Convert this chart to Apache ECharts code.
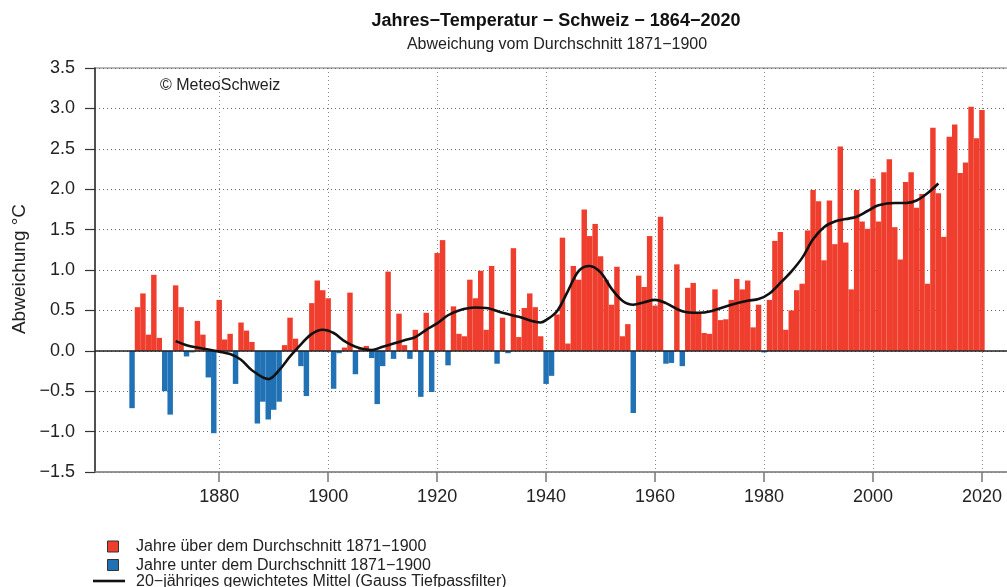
<!DOCTYPE html>
<html>
<head>
<meta charset="utf-8">
<script src="https://cdn.jsdelivr.net/npm/echarts@6/dist/echarts.min.js"></script>
<style>
  html, body { margin: 0; padding: 0; background: #ffffff; }
  #chart { width: 1007px; height: 587px; }
</style>
</head>
<body>
<div id="chart"></div>
<script>
// Annual temperature anomaly, Switzerland, relative to the 1871–1900 mean (°C)
const firstYear = 1864;
const anomalies = [
  -0.71, 0.54, 0.71, 0.20, 0.94, 0.16, -0.50, -0.79, 0.81, 0.54,   // 1864–1873
  -0.07, -0.02, 0.37, 0.20, -0.33, -1.02, 0.63, 0.14, 0.21, -0.41, // 1874–1883
  0.35, 0.25, 0.11, -0.90, -0.63, -0.85, -0.73, -0.63, 0.07, 0.41, // 1884–1893
  0.15, -0.19, -0.56, 0.59, 0.87, 0.75, 0.65, -0.47, -0.03, 0.04,  // 1894–1903
  0.72, -0.29, 0.02, 0.06, -0.09, -0.66, -0.19, 0.98, -0.10, 0.46, // 1904–1913
  0.07, -0.10, 0.26, -0.57, 0.47, -0.51, 1.21, 1.37, -0.18, 0.55,  // 1914–1923
  0.21, 0.18, 0.88, 0.65, 0.99, 0.26, 1.05, -0.16, 0.41, -0.03,    // 1924–1933
  1.27, 0.17, 0.53, 0.71, 0.54, 0.18, -0.41, -0.31, 0.45, 1.40,    // 1934–1943
  0.09, 1.05, 0.88, 1.75, 1.42, 1.57, 1.17, 0.88, 0.57, 1.04,      // 1944–1953
  0.18, 0.33, -0.77, 0.93, 0.79, 1.42, 0.56, 1.66, -0.16, -0.15,   // 1954–1963
  1.07, -0.19, 0.78, 0.84, 0.47, 0.22, 0.21, 0.76, 0.38, 0.39,     // 1964–1973
  0.63, 0.89, 0.76, 0.87, 0.29, 0.57, -0.02, 0.63, 1.36, 1.47,     // 1974–1983
  0.26, 0.50, 0.75, 0.83, 1.49, 1.99, 1.85, 1.12, 1.86, 1.32,      // 1984–1993
  2.53, 1.34, 0.76, 1.99, 1.60, 1.51, 2.13, 1.60, 2.21, 2.37,      // 1994–2003
  1.53, 1.13, 2.09, 2.21, 1.77, 1.94, 0.83, 2.76, 1.95, 1.41,      // 2004–2013
  2.65, 2.80, 2.20, 2.33, 3.02, 2.63, 2.98                         // 2014–2020
];
const years = anomalies.map((_, i) => firstYear + i);

// 20-year weighted mean (Gaussian low-pass filter)
const filterYears  = [1872, 1874, 1876, 1880, 1882, 1884, 1886, 1889, 1891, 1893,
                      1895, 1897, 1899, 1901, 1903, 1905, 1908, 1910, 1912, 1914,
                      1916, 1918, 1920, 1922, 1924, 1927, 1929, 1932, 1935, 1939,
                      1940, 1942, 1944, 1946, 1948, 1950, 1952, 1954, 1956, 1958,
                      1960, 1962, 1965, 1968, 1970, 1974, 1977, 1979, 1981, 1983,
                      1985, 1987, 1989, 1991, 1993, 1995, 1997, 1999, 2001, 2004,
                      2006, 2008, 2010, 2012];
const filterValues = [0.12, 0.07, 0.04, -0.01, -0.04, -0.11, -0.24, -0.35, -0.24, -0.07,
                      0.08, 0.21, 0.26, 0.22, 0.12, 0.05, 0.01, 0.05, 0.09, 0.13,
                      0.17, 0.26, 0.34, 0.44, 0.50, 0.535, 0.53, 0.47, 0.42, 0.35,
                      0.38, 0.49, 0.74, 0.99, 1.05, 0.97, 0.77, 0.62, 0.57, 0.60,
                      0.63, 0.59, 0.49, 0.47, 0.485, 0.57, 0.62, 0.64, 0.71, 0.84,
                      0.98, 1.15, 1.38, 1.53, 1.60, 1.63, 1.66, 1.73, 1.80, 1.83,
                      1.83, 1.86, 1.95, 2.07];

const decadeTicks = [1880, 1900, 1920, 1940, 1960, 1980, 2000, 2020];

const RED = '#EF3E2D';
const BLUE = '#2171B5';
const FONT = '"Liberation Sans", Arial, Helvetica, sans-serif';

const aboveData = [];
const belowData = [];
years.forEach((y, i) => {
  const v = anomalies[i];
  if (v >= 0) aboveData.push([y, v]); else belowData.push([y, v]);
});
const filterData = filterYears.map((y, i) => [y, filterValues[i]]);

const legendLabels = [
  'Jahre über dem Durchschnitt 1871\u22121900',
  'Jahre unter dem Durchschnitt 1871\u22121900',
  '20\u2212jähriges gewichtetes Mittel (Gauss Tiefpassfilter)'
];

const chart = echarts.init(document.getElementById('chart'), null, { renderer: 'canvas' });

const option = {
  animation: false,
  backgroundColor: '#ffffff',
  textStyle: { fontFamily: FONT },
  grid: {
    left: 95, top: 68, width: 924, height: 404,
    containLabel: false,
    outerBoundsMode: 'none',
    show: true,
    borderColor: '#777',
    borderWidth: 1.2,
    backgroundColor: 'transparent'
  },
  xAxis: {
    type: 'value',
    min: 1857.2,
    max: 2026.8,
    axisLine: { show: true, onZero: false, lineStyle: { color: '#888', width: 1.6 } },
    axisTick: { show: true, length: 10, customValues: decadeTicks, lineStyle: { color: '#777', width: 1.5 } },
    axisLabel: {
      customValues: decadeTicks,
      margin: 16,
      fontSize: 18,
      color: '#222',
      fontFamily: FONT,
      formatter: v => String(Math.round(v))
    },
    splitLine: { show: true, lineStyle: { color: '#888', width: 1, type: [1, 3] } }
  },
  yAxis: {
    type: 'value',
    min: -1.5,
    max: 3.5,
    interval: 0.5,
    axisLine: { show: true, lineStyle: { color: '#333', width: 1.5 } },
    axisTick: { show: true, length: 10, lineStyle: { color: '#333', width: 1.2 } },
    axisLabel: {
      margin: 20,
      fontSize: 18,
      color: '#222',
      fontFamily: FONT,
      formatter: v => (v < 0 ? '\u2212' : '') + Math.abs(v).toFixed(1)
    },
    splitLine: { show: true, lineStyle: { color: '#666', width: 1, type: [1, 3] } }
  },
  series: [
    {
      name: legendLabels[0],
      type: 'bar',
      data: aboveData,
      barWidth: 5.45,
      barGap: '-100%',
      itemStyle: { color: RED },
      z: 3
    },
    {
      name: legendLabels[1],
      type: 'bar',
      data: belowData,
      barWidth: 5.45,
      barGap: '-100%',
      itemStyle: { color: BLUE },
      z: 3
    },
    {
      name: legendLabels[2],
      type: 'line',
      data: filterData,
      smooth: 0.35,
      symbol: 'none',
      lineStyle: { color: '#111', width: 2.6 },
      z: 5,
      markLine: {
        silent: true,
        symbol: ['none', 'none'],
        label: { show: false },
        lineStyle: { color: '#222', width: 1.5, type: 'solid' },
        data: [{ yAxis: 0 }],
        z: 4
      }
    }
  ],
  graphic: [
    {
      type: 'text', left: null, x: 556, y: 21,
      style: { text: 'Jahres\u2212Temperatur \u2212 Schweiz \u2212 1864\u22122020', font: 'bold 18px ' + FONT,
               fill: '#111', align: 'center', verticalAlign: 'middle' }
    },
    {
      type: 'text', x: 557, y: 45,
      style: { text: 'Abweichung vom Durchschnitt 1871\u22121900', font: '16px ' + FONT,
               fill: '#222', align: 'center', verticalAlign: 'middle' }
    },
    {
      type: 'text', x: 160, y: 86,
      style: { text: '\u00A9 MeteoSchweiz', font: '16px ' + FONT,
               fill: '#222', align: 'left', verticalAlign: 'middle' }
    },
    {
      type: 'text', x: 20, y: 269, rotation: Math.PI / 2,
      style: { text: 'Abweichung \u00B0C', font: '19px ' + FONT,
               fill: '#222', align: 'center', verticalAlign: 'middle' }
    },
    {
      type: 'rect', shape: { x: 107.5, y: 541, width: 11, height: 11 },
      style: { fill: RED, stroke: '#333', lineWidth: 1 }
    },
    {
      type: 'rect', shape: { x: 107.5, y: 559.5, width: 11, height: 11 },
      style: { fill: BLUE, stroke: '#333', lineWidth: 1 }
    },
    {
      type: 'line', shape: { x1: 93, y1: 581, x2: 125, y2: 581 },
      style: { stroke: '#111', lineWidth: 2.6 }
    },
    {
      type: 'text', x: 136, y: 547,
      style: { text: legendLabels[0], font: '16px ' + FONT, fill: '#222', align: 'left', verticalAlign: 'middle' }
    },
    {
      type: 'text', x: 136, y: 565.5,
      style: { text: legendLabels[1], font: '16px ' + FONT, fill: '#222', align: 'left', verticalAlign: 'middle' }
    },
    {
      type: 'text', x: 136, y: 582,
      style: { text: legendLabels[2], font: '16px ' + FONT, fill: '#222', align: 'left', verticalAlign: 'middle' }
    }
  ]
};

chart.setOption(option);
</script>
</body>
</html>
